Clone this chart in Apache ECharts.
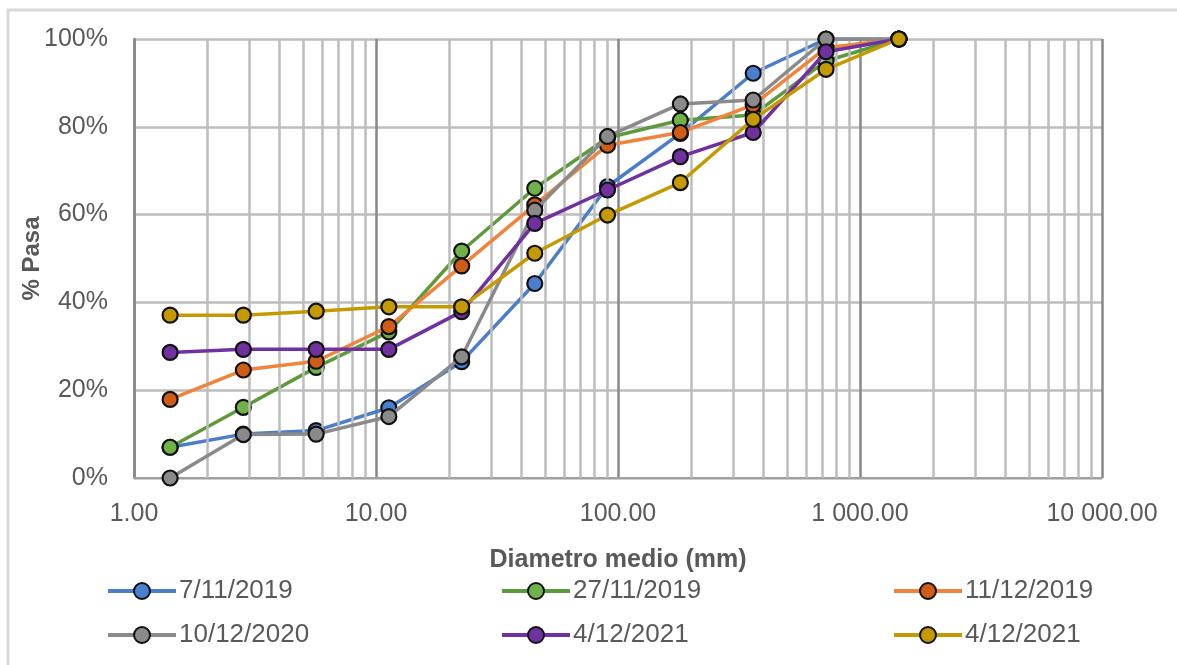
<!DOCTYPE html>
<html>
<head>
<meta charset="utf-8">
<script src="https://cdn.jsdelivr.net/npm/echarts@6/dist/echarts.min.js"></script>
<style>
html,body{margin:0;padding:0;background:#fff;}
#chart{width:1177px;height:665px;}
</style>
</head>
<body>
<div id="chart"></div>
<script>
// ---- data ----
const diameters = [1.41, 2.83, 5.66, 11.3, 22.6, 45.3, 90.5, 181, 362, 724, 1448];
const seriesNames = ['7/11/2019', '27/11/2019', '11/12/2019', '10/12/2020', '4/12/2021', '4/12/2021 '];
const s1 = [7, 10, 10.8, 16, 26.5, 44.3, 66.4, 78.5, 92.2, 100, 100];
const s2 = [7, 16.1, 25.2, 33.3, 51.7, 66, 77.5, 81.5, 82.7, 95, 100];
const s3 = [17.9, 24.6, 26.6, 34.5, 48.3, 62.2, 75.8, 78.7, 85, 98, 100];
const s4 = [0, 9.9, 10, 14, 27.6, 61, 77.8, 85.2, 86.1, 100, 100];
const s5 = [28.6, 29.3, 29.3, 29.3, 37.9, 58, 65.6, 73.2, 78.7, 97.1, 100];
const s6 = [37.1, 37.1, 38, 39, 39, 51.2, 59.9, 67.3, 81.7, 93.1, 100];
const xTickLabels = {1: '1.00', 10: '10.00', 100: '100.00', 1000: '1 000.00', 10000: '10 000.00'};
const minorGrid = [2,3,4,5,6,7,8,9,20,30,40,50,60,70,80,90,200,300,400,500,600,700,800,900,2000,3000,4000,5000,6000,7000,8000,9000];

const seriesValues = [s1, s2, s3, s4, s5, s6];
const lineColors = ['#4a7ecb', '#5e9a3c', '#f0843c', '#8a8a8a', '#7030a0', '#c49a00'];
const markerColors = ['#4a7fd0', '#70b24a', '#cf5d16', '#8a8a8a', '#7030a0', '#c49a00'];

const FONT = '"Liberation Sans", Arial, sans-serif';
const TXT = '#595959';

const chart = echarts.init(document.getElementById('chart'), null, {renderer: 'canvas'});

const series = [{
  name: '__grid',
  type: 'line',
  data: [[1, 0]],
  showSymbol: false,
  symbol: 'none',
  silent: true,
  z: 1,
  lineStyle: {opacity: 0},
  markLine: {
    silent: true,
    symbol: 'none',
    label: {show: false},
    animation: false,
    lineStyle: {color: '#bdbdbd', width: 2.5, type: 'solid'},
    data: minorGrid.map(v => ({xAxis: v}))
  }
}];

seriesValues.forEach((vals, i) => {
  series.push({
    name: seriesNames[i],
    type: 'line',
    z: 3 + i,
    data: diameters.map((d, j) => [d, vals[j]]),
    symbol: 'circle',
    symbolSize: 15,
    showAllSymbol: true,
    lineStyle: {color: lineColors[i], width: 3.5},
    itemStyle: {color: markerColors[i], borderColor: '#111', borderWidth: 2.2},
    emphasis: {disabled: true},
    animation: false
  });
});

const legendLefts = [101, 495, 887];
const legendTops = [573, 617];
const legends = seriesNames.map((n, i) => ({
  data: [n],
  left: legendLefts[i % 3],
  top: legendTops[Math.floor(i / 3)],
  orient: 'horizontal',
  itemWidth: 68,
  itemHeight: 20,
  itemGap: 8,
  selectedMode: false,
  formatter: name => name.trim(),
  lineStyle: {width: 4},
  textStyle: {fontFamily: FONT, fontSize: 26, color: TXT, padding: [0, 0, 0, -2]}
}));

const option = {
  backgroundColor: '#fff',
  animation: false,
  graphic: [{
    type: 'rect',
    shape: {x: 8, y: 10, width: 1250, height: 700},
    style: {fill: 'none', stroke: '#d9d9d9', lineWidth: 3},
    silent: true
  }],
  grid: {left: 134, right: 75, top: 39, bottom: 187, containLabel: false},
  legend: legends,
  xAxis: {
    type: 'log',
    logBase: 10,
    min: 1,
    max: 10000,
    splitNumber: 4,
    name: 'Diametro medio (mm)',
    nameLocation: 'middle',
    nameGap: 70,
    nameMoveOverlap: false,
    nameTextStyle: {fontFamily: FONT, fontSize: 25, fontWeight: 'bold', color: TXT},
    axisLine: {show: true, lineStyle: {color: '#a0a0a0', width: 2}},
    axisTick: {show: false},
    axisLabel: {
      fontFamily: FONT, fontSize: 25, color: TXT, margin: 24,
      formatter: v => xTickLabels[Math.round(v)] !== undefined ? xTickLabels[Math.round(v)] : ''
    },
    splitLine: {show: true, lineStyle: {color: '#878787', width: 2.5}},
    minorTick: {show: false},
    minorSplitLine: {show: false}
  },
  yAxis: {
    type: 'value',
    min: 0,
    max: 100,
    interval: 20,
    name: '% Pasa',
    nameLocation: 'middle',
    nameGap: 90,
    nameRotate: 90,
    nameMoveOverlap: false,
    nameTextStyle: {fontFamily: FONT, fontSize: 24, fontWeight: 'bold', color: TXT},
    axisLine: {show: true, lineStyle: {color: '#878787', width: 2.5}},
    axisTick: {show: false},
    axisLabel: {fontFamily: FONT, fontSize: 25, color: TXT, margin: 26, formatter: '{value}%'},
    splitLine: {show: true, lineStyle: {color: '#bdbdbd', width: 2.5}}
  },
  series: series
};

chart.setOption(option);
</script>
</body>
</html>
